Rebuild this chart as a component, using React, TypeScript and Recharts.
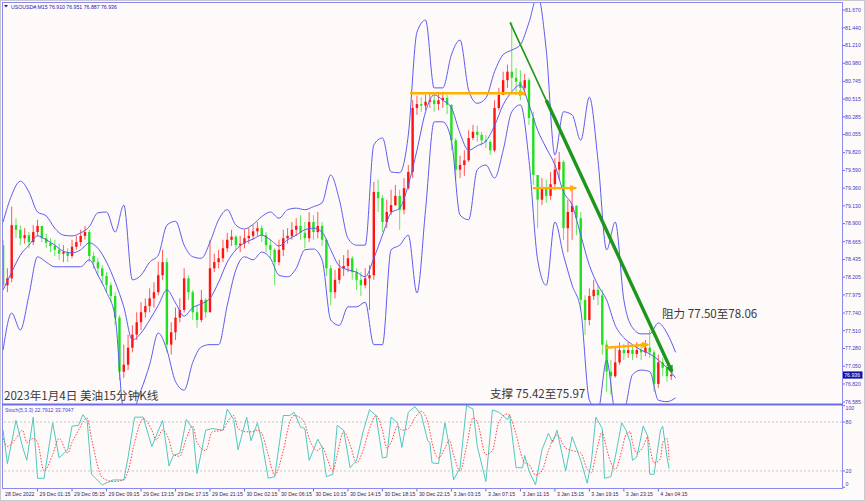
import React from 'react';
import { ComposedChart, Bar, Line, XAxis, YAxis, ReferenceLine } from 'recharts';

// ---------------- texts ----------------
const SYMBOL_LINE = 'USOUSD#,M15  76.910 76.951 76.887 76.936';
const STOCH_LINE = 'Stoch(5,3,3) 22.7912 33.7047';
const TITLE_TEXT = '2023年1月4日 美油15分钟K线';
const SUPPORT_TEXT = '支撑 75.42至75.97';
const RESIST_TEXT = '阻力 77.50至78.06';
const LAST_PRICE = 76.936;

// ---------------- axes ----------------
const priceTicks = [81.67, 81.44, 81.21, 80.98, 80.745, 80.515, 80.285, 80.055, 79.82, 79.59, 79.36, 79.13,
  78.9, 78.665, 78.435, 78.205, 77.975, 77.74, 77.51, 77.28, 77.05, 76.82, 76.585];
const stochTicks = [0, 20, 80, 100];
const stochLevels = [20, 80];
const timeTickBars = [0, 16, 32, 48, 64, 80, 96, 112, 128, 144, 160, 176, 192, 208, 224, 240, 256, 272, 288, 304];
const timeTickLabels = ['28 Dec 2022', '29 Dec 01:15', '29 Dec 05:15', '29 Dec 09:15', '29 Dec 13:15', '29 Dec 17:15',
  '29 Dec 21:15', '30 Dec 02:15', '30 Dec 06:15', '30 Dec 10:15', '30 Dec 14:15', '30 Dec 18:15', '30 Dec 22:15',
  '3 Jan 03:15', '3 Jan 07:15', '3 Jan 11:15', '3 Jan 15:15', '3 Jan 19:15', '3 Jan 23:15', '4 Jan 04:15'];

const X_DOMAIN: [number, number] = [-0.5, 389.2];
const PRICE_DOMAIN: [number, number] = [76.56, 81.774];
const STOCH_DOMAIN: [number, number] = [-0.9, 100.9];

// ---------------- candles (one candle = 2 bars of M15) ----------------
const BARS_PER_CANDLE = 2;
const firstOpen = 78.62;
const candleClose = [
  78.10, 78.19, 78.88, 78.82, 78.71, 78.75, 78.66, 78.79, 78.87, 78.71,
  78.65, 78.61, 78.56, 78.51, 78.53, 78.48, 78.60, 78.66, 78.74, 78.79,
  78.48, 78.40, 78.32, 78.22, 78.10, 77.96, 77.68, 76.98, 77.07, 77.29,
  77.46, 77.62, 77.75, 77.83, 77.93, 78.01, 78.23, 78.40, 77.33, 77.49,
  77.68, 77.78, 78.19, 78.01, 77.75, 77.65, 77.91, 77.75, 78.32, 78.40,
  78.45, 78.58, 78.69, 78.73, 78.62, 78.64, 78.71, 78.74, 78.80, 78.84,
  78.75, 78.62, 78.56, 78.40, 78.56, 78.71, 78.74, 78.82, 78.87, 78.78,
  78.71, 78.92, 78.79, 78.87, 78.69, 78.32, 78.01, 78.17, 78.32, 78.35,
  78.45, 78.27, 78.17, 78.10, 78.19, 78.23, 79.31, 79.23, 78.92, 79.05,
  79.14, 79.26, 79.08, 79.36, 79.57, 80.40, 80.45, 80.43, 80.48, 80.50,
  80.45, 80.50, 80.53, 80.44, 79.98, 79.60, 79.66, 79.72, 80.01, 80.09,
  80.05, 79.98, 79.96, 79.85, 80.40, 80.57, 80.76, 80.87, 80.79, 80.74,
  80.66, 80.76, 80.27, 79.53, 79.21, 79.36, 79.26, 79.41, 79.60, 79.70,
  78.84, 79.05, 79.13, 78.97, 77.91, 77.65, 77.96, 78.04, 77.97, 77.33,
  76.98, 76.92, 77.10, 77.26, 77.22, 77.26, 77.21, 77.26, 77.23, 77.29,
  77.23, 76.82, 77.10, 77.03, 76.92, 76.94,
];
const candleHigh = [
  78.69, 78.32, 79.12, 78.97, 78.88, 78.84, 78.79, 78.88, 78.95, 78.87,
  78.77, 78.71, 78.69, 78.64, 78.62, 78.58, 78.69, 78.74, 78.82, 78.87,
  78.82, 78.53, 78.45, 78.36, 78.27, 78.14, 78.01, 77.71, 77.33, 77.46,
  77.58, 77.75, 77.88, 77.93, 78.06, 78.14, 78.40, 78.56, 78.45, 77.62,
  77.81, 77.93, 78.32, 78.23, 78.04, 77.84, 78.04, 77.93, 78.69, 78.51,
  78.56, 78.69, 78.78, 78.82, 78.75, 78.74, 78.82, 78.84, 78.88, 78.92,
  78.88, 78.79, 78.69, 78.58, 78.69, 78.82, 78.84, 78.92, 78.97, 79.01,
  78.92, 79.05, 79.01, 79.05, 78.92, 78.71, 78.36, 78.30, 78.43, 78.49,
  78.56, 78.48, 78.32, 78.27, 78.32, 78.36, 79.44, 79.47, 79.27, 79.21,
  79.34, 79.40, 79.34, 79.49, 79.66, 80.50, 80.56, 80.54, 80.57, 80.58,
  80.57, 80.61, 80.61, 80.57, 80.45, 80.01, 79.78, 79.85, 80.11, 80.18,
  80.17, 80.09, 80.05, 79.98, 80.50, 80.66, 80.87, 80.96, 81.51, 80.92,
  80.89, 80.84, 80.79, 80.35, 79.53, 79.49, 79.47, 79.57, 79.75, 79.83,
  79.72, 79.21, 79.39, 79.14, 79.05, 77.97, 78.06, 78.17, 78.10, 78.04,
  77.39, 77.13, 77.29, 77.36, 77.34, 77.36, 77.31, 77.36, 77.35, 77.39,
  77.52, 77.26, 77.20, 77.16, 77.07, 77.03,
];
const candleLow = [
  78.04, 78.01, 78.14, 78.71, 78.62, 78.64, 78.58, 78.62, 78.74, 78.66,
  78.58, 78.53, 78.48, 78.43, 78.40, 78.40, 78.45, 78.56, 78.61, 78.69,
  78.40, 78.32, 78.22, 78.12, 78.01, 77.88, 77.58, 76.87, 76.90, 77.00,
  77.23, 77.39, 77.52, 77.68, 77.75, 77.81, 77.97, 78.17, 77.23, 77.20,
  77.39, 77.62, 77.75, 77.91, 77.65, 77.55, 77.62, 77.68, 77.75, 78.27,
  78.32, 78.40, 78.53, 78.61, 78.56, 78.53, 78.58, 78.64, 78.69, 78.74,
  78.66, 78.53, 78.45, 78.10, 78.36, 78.48, 78.64, 78.69, 78.74, 78.69,
  78.58, 78.66, 78.69, 78.71, 78.61, 78.22, 77.84, 77.93, 78.12, 78.22,
  78.27, 78.17, 78.04, 77.96, 78.06, 77.78, 78.17, 79.05, 78.79, 78.84,
  79.01, 79.13, 78.82, 79.02, 79.34, 79.49, 80.31, 80.35, 80.37, 80.40,
  80.35, 80.37, 80.40, 80.32, 79.85, 79.47, 79.49, 79.52, 79.70, 79.98,
  79.96, 79.91, 79.88, 79.79, 79.83, 80.37, 80.57, 80.66, 80.61, 80.57,
  80.50, 80.56, 80.18, 79.40, 78.84, 79.14, 79.17, 79.21, 79.34, 79.47,
  78.69, 78.53, 78.69, 78.75, 77.78, 77.46, 77.58, 77.91, 77.84, 77.20,
  76.72, 76.68, 76.90, 77.07, 77.13, 77.16, 77.13, 77.16, 77.13, 77.18,
  77.16, 76.72, 76.77, 76.92, 76.85, 76.87,
];

// ---------------- Bollinger bands (sampled every 4 bars) ----------------
const BAND_STEP = 4;
const bandUpper = [
  78.92, 79.27, 79.45, 79.31, 79.05, 79.00, 78.84, 78.75, 78.74, 78.78,
  78.86, 79.04, 79.05, 78.79, 79.14, 78.17, 78.23, 78.40, 78.49, 78.88,
  78.93, 78.62, 78.47, 78.45, 78.66, 78.95, 79.08, 78.88, 78.83, 78.89,
  78.99, 79.05, 78.97, 79.08, 79.10, 79.08, 79.12, 79.17, 79.53, 79.21,
  78.71, 78.62, 78.62, 79.92, 80.01, 79.57, 79.56, 80.05, 81.38, 81.54,
  80.66, 80.66, 81.09, 81.28, 80.63, 80.46, 80.53, 80.87, 81.09, 81.15,
  81.22, 81.51, 81.86, 81.15, 79.79, 80.35, 80.31, 79.98, 80.54, 79.72,
  78.56, 78.92, 77.91, 77.55, 77.47, 77.47, 77.61, 77.48, 77.23,
];
const bandMiddle = [
  78.04, 78.27, 78.49, 78.62, 78.74, 78.69, 78.62, 78.54, 78.52, 78.56,
  78.65, 78.58, 78.40, 78.14, 77.82, 77.39, 77.48, 77.65, 77.84, 78.04,
  77.87, 77.70, 77.81, 77.86, 77.93, 78.14, 78.40, 78.56, 78.65, 78.70,
  78.75, 78.69, 78.61, 78.69, 78.75, 78.82, 78.84, 78.79, 78.56, 78.35,
  78.30, 78.27, 78.21, 78.45, 78.75, 79.04, 79.10, 79.40, 79.85, 80.35,
  80.57, 80.50, 80.40, 80.07, 79.85, 79.91, 79.97, 80.17, 80.44, 80.61,
  80.70, 80.44, 80.11, 79.88, 79.66, 79.31, 79.14, 78.75, 78.36, 78.10,
  77.91, 77.58, 77.42, 77.33, 77.26, 77.21, 77.13, 77.03, 76.90,
];
const bandLower = [
  77.26, 77.74, 77.52, 77.97, 78.47, 78.40, 78.34, 78.34, 78.34, 78.34,
  78.43, 78.23, 78.01, 77.69, 76.48, 76.48, 76.74, 77.07, 77.48, 77.26,
  76.85, 76.74, 77.10, 77.30, 77.33, 77.33, 77.84, 78.30, 78.47, 78.43,
  78.53, 78.45, 78.23, 78.21, 78.32, 78.56, 78.57, 78.43, 77.65, 77.58,
  77.82, 77.82, 77.88, 77.33, 77.33, 78.56, 78.62, 78.75, 78.00, 79.08,
  80.22, 80.22, 79.98, 79.01, 78.95, 79.60, 79.66, 79.49, 79.85, 80.35,
  80.44, 79.72, 78.43, 78.10, 78.92, 78.49, 78.10, 77.78, 76.61, 76.48,
  77.13, 76.48, 76.48, 76.94, 77.00, 76.98, 76.61, 76.59, 76.64,
];

// ---------------- Stochastic (5,3,3) ----------------
const stochBars = [0, 2, 6, 9, 11, 14, 16, 19, 23, 26, 30, 32, 35, 37, 39, 41, 46, 51, 56, 58,
  61, 65, 69, 71, 74, 77, 79, 82, 85, 88, 90, 94, 97, 102, 104, 107, 109, 113, 115, 118,
  120, 123, 126, 130, 133, 135, 138, 140, 142, 146, 148, 150, 153, 155, 158, 161, 164, 167, 170, 173,
  176, 178, 180, 183, 185, 188, 191, 194, 197, 198, 199, 202, 205, 207, 209, 212, 215, 218, 220, 224,
  227, 230, 234, 235, 238, 241, 242, 244, 247, 250, 253, 255, 257, 261, 264, 268, 271, 273, 275, 278,
  279, 282, 284, 287, 289, 291, 292, 294, 297, 299, 300, 302, 305, 306, 308, 309];
const stochK = [70, 29, 82, 50, 33, 86, 11, 11, 79, 36, 46, 75, 76, 89, 82, 16, 3, 9, 9, 37,
  86, 86, 50, 63, 82, 26, 39, 42, 83, 72, 17, 70, 72, 70, 96, 83, 46, 86, 57, 79,
  57, 11, 13, 88, 88, 92, 74, 72, 33, 59, 49, 13, 16, 76, 70, 24, 33, 68, 95, 88,
  36, 37, 86, 79, 49, 92, 99, 89, 57, 55, 30, 29, 79, 50, 9, 24, 100, 96, 50, 7,
  95, 92, 83, 89, 24, 24, 39, 20, 3, 46, 66, 55, 70, 20, 62, 33, 5, 33, 86, 72,
  11, 13, 37, 79, 70, 55, 33, 37, 75, 63, 16, 16, 70, 75, 37, 22.79];
const stochD = [60, 50, 60, 70, 55, 60, 55, 20, 40, 60, 42, 55, 70, 80, 85, 60, 12, 7, 9, 20,
  55, 84, 70, 58, 70, 58, 40, 38, 60, 75, 55, 45, 68, 70, 80, 88, 72, 68, 68, 70,
  66, 40, 15, 45, 80, 88, 85, 78, 60, 45, 50, 38, 20, 40, 68, 52, 30, 45, 72, 88,
  70, 48, 55, 75, 70, 72, 85, 93, 80, 68, 55, 36, 48, 58, 40, 20, 50, 85, 80, 40,
  45, 80, 90, 88, 65, 35, 30, 28, 15, 20, 45, 58, 64, 48, 45, 42, 22, 18, 40, 68,
  58, 30, 22, 45, 65, 68, 55, 42, 50, 62, 50, 30, 35, 55, 60, 33.70];

// ---------------- drawn objects ----------------
const trendBars = [235.2, 310.3];
const trendPrices = [81.51, 76.98];
const trendThickBars = [252, 310.3];
const trendThickPrices = [80.5, 76.98];
const levelArrowBars = [[188.8, 242.1], [245.8, 265.8], [279.2, 299.2]];
const levelArrowPrices = [[80.59, 80.59], [79.36, 79.36], [77.29, 77.33]];

// ---------------- derived tables ----------------
const candles = candleClose.map((c, k) => {
  const o = k === 0 ? firstOpen : candleClose[k - 1];
  const h = Math.max(candleHigh[k], o, c);
  const l = Math.min(candleLow[k], o, c);
  return { i: k * BARS_PER_CANDLE, o, h, l, c, range: [l, h] };
});
const bandSeries = (arr: number[]) => arr.map((v, n) => ({ i: n * BAND_STEP, v }));
const upperData = bandSeries(bandUpper);
const middleData = bandSeries(bandMiddle);
const lowerData = bandSeries(bandLower);
const kData = stochBars.map((i, n) => ({ i, v: stochK[n] }));
const dData = stochBars.map((i, n) => ({ i, v: stochD[n] }));
const pairSeries = (bars: number[], prices: number[]) => bars.map((i, n) => ({ i, v: prices[n] }));

const RED = '#ff1212';
const GREEN = '#1fe01f';
const BAND = '#5c5cf0';
const TREND = '#1c961c';
const ORANGE = '#ffb000';
const FRAME = '#8a8aee';
const AXIS_TEXT = '#3a3acc';
const SMALL_FONT = 'Liberation Sans, Arial, sans-serif';
const CJK_FONT = '"Noto Sans CJK SC", "Noto Sans", sans-serif';

const Candle = (props: any) => {
  const { x, y, width, height, payload } = props;
  if (x == null || y == null || !payload) return <g />;
  const { o, h, l, c } = payload;
  const top = Math.min(y, y + height);
  const bottom = Math.max(y, y + height);
  const span = h - l || 1;
  const py = (v: number) => top + ((h - v) / span) * (bottom - top);
  const cx = x + width / 2;
  const color = c >= o ? RED : GREEN;
  const yo = py(o);
  const yc = py(c);
  const bt = Math.min(yo, yc);
  const bh = Math.max(Math.abs(yo - yc), 1);
  return (
    <g>
      <line x1={cx} x2={cx} y1={top} y2={bottom} stroke={color} strokeWidth={1} opacity={0.7} />
      <rect x={cx - 1.2} y={bt} width={2.4} height={bh} fill={color} />
    </g>
  );
};

const makeArrow = (color: string, len: number, half: number) => (p: any) => {
  const { cx, cy, index, points } = p;
  const last = points ? points.length - 1 : 1;
  if (index !== last || cx == null) return <g key={`ar-${index}`} />;
  const a = points ? points[0] : { x: cx - 10, y: cy };
  const ang = Math.atan2(cy - a.y, cx - a.x);
  const ux = Math.cos(ang), uy = Math.sin(ang);
  const px = -uy, py = ux;
  const tipX = cx + ux * 1.5, tipY = cy + uy * 1.5;
  const bx = cx - ux * len, by = cy - uy * len;
  const pts = `${tipX},${tipY} ${bx + px * half},${by + py * half} ${bx - px * half},${by - py * half}`;
  return <polygon key={`ar-${index}`} points={pts} fill={color} />;
};

const PriceTick = (p: any) => (
  <text x={p.x} y={p.y} dy={1.8} fontSize={5.2} fill={AXIS_TEXT} fontFamily={SMALL_FONT}>
    {Number(p.payload.value).toFixed(3)}
  </text>
);
// Stochastic scale labels drawn at the right end of level lines (MT4 keeps 0/100 inside the window)
const StochScaleLabel = (props: any) => {
  const vb = props.viewBox;
  const v = props.level;
  if (!vb) return null;
  const x = vb.x + vb.width;
  const y = vb.y;
  const shift = v >= 100 ? 4.6 : v <= 0 ? -1.2 : 1.8;
  return (
    <g>
      <line x1={x} x2={x + 3} y1={y} y2={y} stroke="#6a6ad8" />
      <text x={x + 3.5} y={y + shift} fontSize={5.2} fill={AXIS_TEXT} fontFamily={SMALL_FONT}>
        {String(v)}
      </text>
    </g>
  );
};
const TimeTick = (p: any) => {
  const n = timeTickBars.indexOf(p.payload.value);
  return (
    <g>
      {n > 0 && <line x1={p.x} x2={p.x} y1={p.y} y2={p.y + 3.5} stroke="#6a6ad8" strokeWidth={1} />}
      <text x={p.x + 2} y={p.y + 7.5} fontSize={5.2} fill="#2a2a5a" fontFamily={SMALL_FONT}>
        {timeTickLabels[n] ?? ''}
      </text>
    </g>
  );
};
const PriceTag = (props: any) => {
  const vb = props.viewBox;
  if (!vb) return null;
  const x = vb.x + vb.width;
  const y = vb.y;
  return (
    <g>
      <rect x={x + 0.5} y={y - 3.6} width={20} height={7.2} fill="#1212a8" />
      <text x={x + 2.2} y={y + 1.9} fontSize={5.2} fill="#ffffff" fontFamily={SMALL_FONT}>
        {LAST_PRICE.toFixed(3)}
      </text>
    </g>
  );
};

export default function App() {
  return (
    <div style={{ position: 'absolute', left: 0, top: 0, width: 865, height: 501, background: '#fffafa', overflow: 'hidden' }}>
      <div style={{ position: 'absolute', left: 0, top: 0 }}>
        <ComposedChart width={865} height={405} data={candles} margin={{ top: 2, right: 0, left: 2, bottom: 1 }}>
          <XAxis type="number" dataKey="i" domain={X_DOMAIN} hide allowDataOverflow />
          <YAxis
            orientation="right"
            width={23}
            domain={PRICE_DOMAIN}
            ticks={priceTicks}
            allowDataOverflow
            axisLine={false}
            tickLine={{ stroke: '#6a6ad8' }}
            tickSize={3}
            tickMargin={0}
            interval={0}
            tick={<PriceTick />}
          />
          <Line data={upperData} dataKey="v" type="monotone" stroke={BAND} strokeWidth={1} dot={false} isAnimationActive={false} />
          <Line data={middleData} dataKey="v" type="monotone" stroke={BAND} strokeWidth={1} dot={false} isAnimationActive={false} />
          <Line data={lowerData} dataKey="v" type="monotone" stroke={BAND} strokeWidth={1} dot={false} isAnimationActive={false} />
          <Bar dataKey="range" barSize={3} isAnimationActive={false} shape={(p: any) => <Candle {...p} />} />
          {levelArrowBars.map((bars, n) => (
            <Line
              key={`lvl-${n}`}
              data={pairSeries(bars, levelArrowPrices[n])}
              dataKey="v"
              type="linear"
              stroke={ORANGE}
              strokeWidth={2.4}
              dot={makeArrow(ORANGE, 6, 3.2)}
              activeDot={false}
              isAnimationActive={false}
            />
          ))}
          <Line data={pairSeries(trendBars, trendPrices)} dataKey="v" type="linear" stroke={TREND} strokeWidth={1.6} dot={false} isAnimationActive={false} />
          <Line
            data={pairSeries(trendThickBars, trendThickPrices)}
            dataKey="v"
            type="linear"
            stroke={TREND}
            strokeWidth={3.4}
            dot={makeArrow(TREND, 6, 3.6)}
            activeDot={false}
            isAnimationActive={false}
          />
          <ReferenceLine y={LAST_PRICE} stroke="none" label={<PriceTag />} />
        </ComposedChart>
      </div>
      <div style={{ position: 'absolute', left: 0, top: 405 }}>
        <ComposedChart width={865} height={96} margin={{ top: 0, right: 0, left: 2, bottom: 0 }}>
          <XAxis
            type="number"
            dataKey="i"
            domain={X_DOMAIN}
            allowDataOverflow
            ticks={timeTickBars}
            interval={0}
            height={13}
            axisLine={false}
            tickLine={false}
            tickSize={0}
            tickMargin={0}
            tick={<TimeTick />}
          />
          <YAxis
            orientation="right"
            width={23}
            type="number"
            domain={STOCH_DOMAIN}
            allowDataOverflow
            axisLine={false}
            tickLine={false}
            tick={false}
          />
          {stochLevels.map((lv) => (
            <ReferenceLine key={`lv-${lv}`} y={lv} stroke="#c4c4c4" strokeDasharray="2 2" />
          ))}
          {stochTicks.map((t) => (
            <ReferenceLine key={`st-${t}`} y={t} stroke="none" label={<StochScaleLabel level={t} />} />
          ))}
          <Line data={kData} dataKey="v" type="linear" stroke="#4fc9bd" strokeWidth={1} dot={false} isAnimationActive={false} />
          <Line data={dData} dataKey="v" type="monotone" stroke="#ff4444" strokeWidth={1} strokeDasharray="1.5 1.5" dot={false} isAnimationActive={false} />
        </ComposedChart>
      </div>
      <svg width={865} height={501} style={{ position: 'absolute', left: 0, top: 0, pointerEvents: 'none' }}>
        <rect x={0.5} y={0.5} width={864} height={500} fill="none" stroke="#c8c8d2" />
        <line x1={2.5} x2={2.5} y1={2} y2={489} stroke={FRAME} />
        <line x1={2} x2={843} y1={2.5} y2={2.5} stroke={FRAME} />
        <line x1={842.5} x2={842.5} y1={2} y2={489} stroke={FRAME} />
        <line x1={2} x2={843} y1={404.5} y2={404.5} stroke="#6c6ce6" strokeWidth={2} />
        <line x1={2} x2={843} y1={488.5} y2={488.5} stroke={FRAME} />
        <polygon points="4,5 8,5 6,7.5" fill="#1a1aa0" />
        <text x={11} y={8.6} fontSize={5.2} fill="#2020b0" fontFamily={SMALL_FONT}>{SYMBOL_LINE}</text>
        <text x={5} y={411.6} fontSize={5.2} fill="#3c3ce0" fontFamily={SMALL_FONT}>{STOCH_LINE}</text>
        <text x={4} y={400} fontSize={11.6} fill="#383838" fontFamily={CJK_FONT}>{TITLE_TEXT}</text>
        <text x={490} y={398} fontSize={11.6} fill="#383838" fontFamily={CJK_FONT}>{SUPPORT_TEXT}</text>
        <text x={662} y={318} fontSize={11.6} fill="#383838" fontFamily={CJK_FONT}>{RESIST_TEXT}</text>
      </svg>
    </div>
  );
}
